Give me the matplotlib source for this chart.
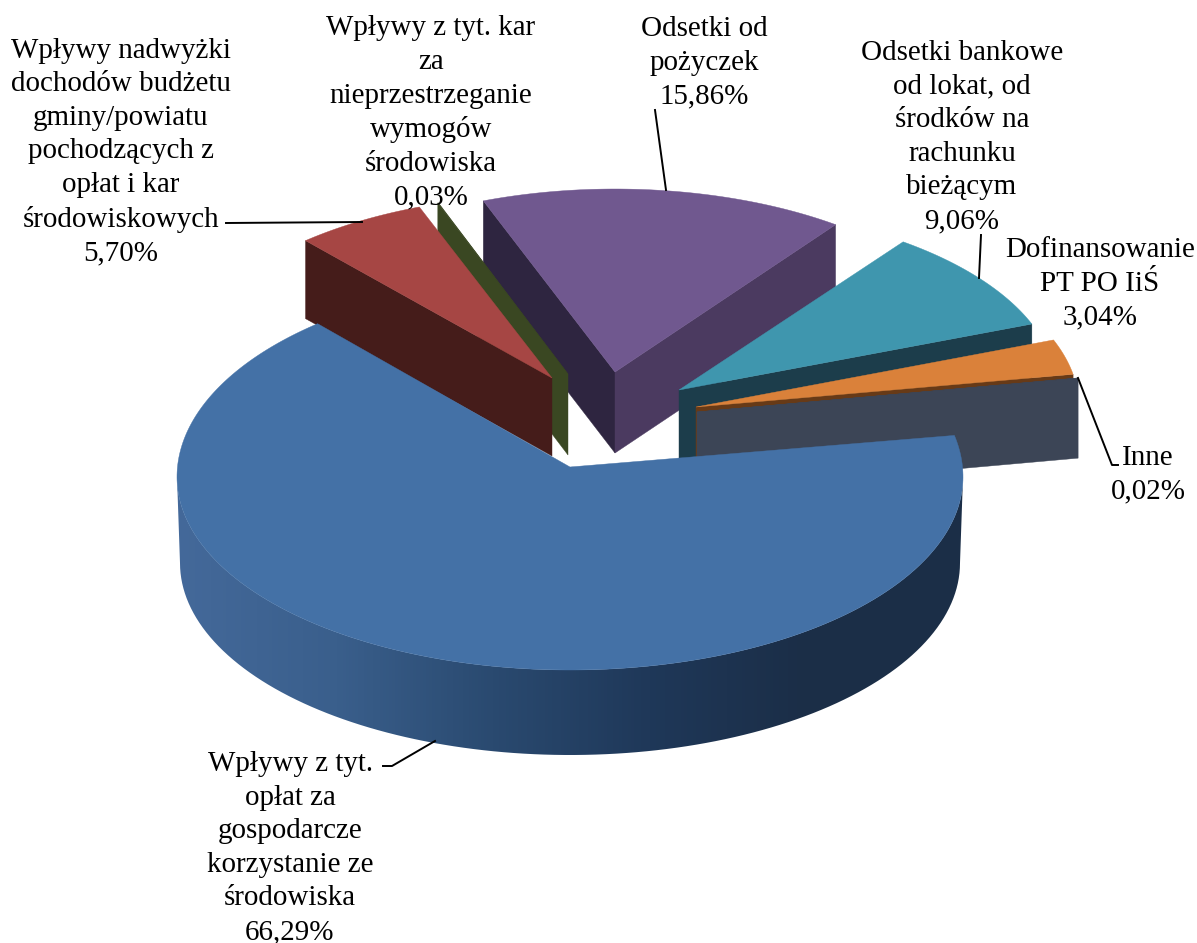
import numpy as np
import matplotlib
matplotlib.use("Agg")
import matplotlib.pyplot as plt
from matplotlib.colors import LinearSegmentedColormap
from matplotlib.patches import Polygon

plt.rcParams['font.family'] = ['Liberation Serif', 'DejaVu Serif']

names = ["Wpływy z tyt.\nopłat za\ngospodarcze\nkorzystanie ze\nśrodowiska",
         "Wpływy nadwyżki\ndochodów budżetu\ngminy/powiatu\npochodzących z\nopłat i kar\nśrodowiskowych",
         "Wpływy z tyt. kar\nza\nnieprzestrzeganie\nwymogów\nśrodowiska",
         "Odsetki od\npożyczek",
         "Odsetki bankowe\nod lokat, od\nśrodków na\nrachunku\nbieżącym",
         "Dofinansowanie\nPT PO IiŚ",
         "Inne"]
shares = [66.29, 5.70, 0.03, 15.86, 9.06, 3.04, 0.02]

# pie layout, in pixels of the 1197x943 picture
start_angle = 10.0
center = (570, 467)
# offset of each slice from the pie centre, and its radii (perspective)
offset_x = [0, -18, -2, 45, 109, 126, 127]
offset_y = [0, -89, -93, -95, -77, -60, -55]
radius_x = [393, 373, 366, 372, 378, 383, 387]
radius_y = [193, 183, 183, 183, 184, 187, 195]
depth = [85, 78, 81, 81, 80, 80, 80]

# the big slice: perspective moves its ellipse below the apex
main_cy = 477
main_ry_back = 200
main_stretch = (2.0, 1.4)
main_bottom = (390, 192, 563)

top_colors = ["#4471A6", "#A64644", "#3A4722", "#70588F", "#3F96AE", "#DA813A", "#3C4556"]
# wall colours: (which cut edge, colour)
walls = [[],
         [("start", "#451C1A")],
         [("start", "#3A4722")],
         [("start", "#2E2540"), ("end", "#4B3A60")],
         [("end", "#1C3D4B")],
         [("end", "#673A17")],
         [("end", "#3C4556")]]
draw_order = [3, 4, 5, 6, 2, 1, 0]

# label centres and leader lines
label_x = [290, 121, 431, 704, 962, 1100, 1148]
label_y = [848, 152, 113, 63, 137, 284, 475]
leaders = [[(383, 766), (392, 766), (435, 741)],
           [(226, 223), (362, 222)],
           [],
           [(655, 110), (666, 190)],
           [(981, 235), (979, 278)],
           [],
           [(1078, 378), (1112, 465), (1118, 465)]]

wall_cmap = LinearSegmentedColormap.from_list(
    "wall", ["#44699A", "#3A5F8C", "#2A4A70", "#1F3859", "#1B2E47", "#1B2E47"])


def arc(cx, cy, rx, ry, a0, a1, n=120, ry_back=None):
    t = np.radians(np.linspace(a0, a1, n))
    s = np.sin(t)
    ys = cy - np.where(s > 0, ry_back if ry_back else ry, ry) * s
    return np.column_stack([cx + rx * np.cos(t), ys])


fig = plt.figure(figsize=(11.97, 9.43), dpi=100)
ax = fig.add_axes([0, 0, 1, 1])

# angles run clockwise from start_angle
sweep = np.array(shares) / sum(shares) * 360
ends = start_angle - np.cumsum(sweep)
starts = ends + sweep

for i in draw_order:
    cx = center[0] + offset_x[i]
    cy = center[1] + offset_y[i]
    rx, ry = radius_x[i], radius_y[i]
    d = depth[i]
    # starts[i] is where the slice begins clockwise, ends[i] where it stops
    for edge, col in walls[i]:
        ang = starts[i] if edge == "start" else ends[i]
        p = arc(cx, cy, rx, ry, ang, ang, 1)[0]
        ax.add_patch(Polygon([(cx, cy), p, (p[0], p[1] + d), (cx, cy + d)],
                             closed=True, fc=col, ec=col, lw=0.3))
    if i == 0:
        # outer wall of the big slice, shaded from left to right
        t_arc = arc(cx, main_cy, rx, ry, 0, -180)
        b_arc = arc(cx, main_bottom[2], main_bottom[0], main_bottom[1], -180, 0)
        clip = Polygon(np.vstack([t_arc, b_arc]), closed=True, fc="none", ec="none")
        ax.add_patch(clip)
        grad = np.linspace(0, 1, 256).reshape(1, -1)
        im = ax.imshow(grad, cmap=wall_cmap, aspect="auto",
                       extent=(cx - rx, cx + rx, 770, 470))
        im.set_clip_path(clip)
        outer = arc(cx, main_cy, rx, ry, starts[0] + main_stretch[0],
                    ends[0] - main_stretch[1], 300, ry_back=main_ry_back)
    else:
        outer = arc(cx, cy, rx, ry, starts[i], ends[i])
    pts = np.vstack([[(cx, cy)], outer])
    ax.add_patch(Polygon(pts, closed=True, fc=top_colors[i], ec=top_colors[i], lw=0.3))

for i in range(len(names)):
    txt = names[i] + "\n" + f"{shares[i]:.2f}".replace(".", ",") + "%"
    ax.text(label_x[i], label_y[i], txt, ha="center", va="center",
            multialignment="center", fontsize=20.9, linespacing=1.38, color="black")
    if leaders[i]:
        xs, ys = zip(*leaders[i])
        ax.plot(xs, ys, color="black", lw=1.4)

ax.set_xlim(0, 1197)
ax.set_ylim(943, 0)
ax.axis("off")
fig.savefig("out.png", dpi=100)
